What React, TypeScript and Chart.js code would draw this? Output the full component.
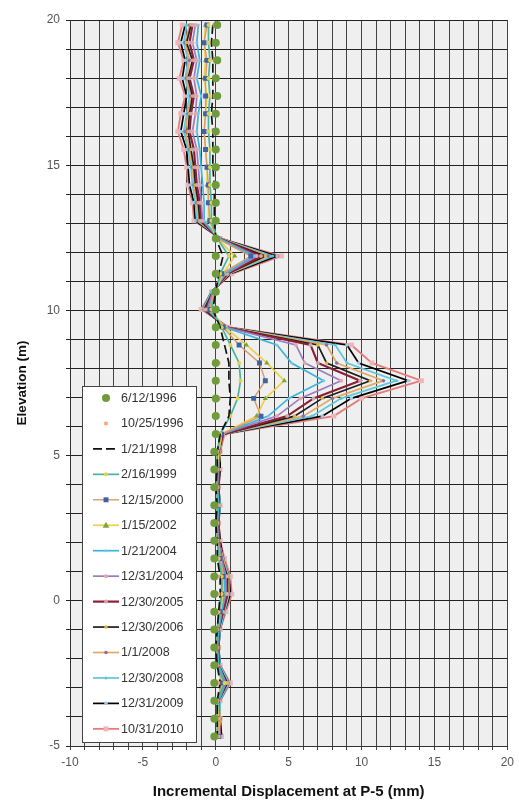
import { useEffect, useRef } from 'react';
import { Chart, registerables } from 'chart.js';

Chart.register(...registerables);

const FONT = '"Liberation Sans", Arial, Helvetica, sans-serif';

// Elevation (m) of each reading (2-ft spacing)
const elevations = [
  19.83, 19.22, 18.61, 17.99, 17.38, 16.77, 16.16, 15.54, 14.93, 14.32, 13.71, 13.09,
  12.48, 11.87, 11.26, 10.64, 10.03,
  9.42, 8.81, 8.19, 7.58, 6.97, 6.36, 5.74,
  5.13, 4.52, 3.91, 3.29, 2.68, 2.07, 1.46, 0.84, 0.23, -0.38, -0.99, -1.61, -2.22, -2.83, -3.44, -4.06, -4.67,
];

const seriesLabels = [
  '6/12/1996', '10/25/1996', '1/21/1998', '2/16/1999', '12/15/2000', '1/15/2002', '1/21/2004',
  '12/31/2004', '12/30/2005', '12/30/2006', '1/1/2008', '12/30/2008', '12/31/2009', '10/31/2010',
];

// Incremental displacement (mm) per reading date
const d19960612 = [
  0.1, 0, 0.1, 0, 0.1, 0, 0, 0, 0, 0, 0, 0,
  0, 0, 0, 0, 0,
  0, 0, 0, 0, 0, 0, 0,
  -0.1, -0.1, -0.1, -0.1, -0.1, -0.1, -0.1, -0.1, -0.1, -0.1, -0.1, -0.1, -0.1, -0.1, -0.1, -0.1, -0.1,
];
const d19961025 = [
  -0.1, 0, -0.1, 0, -0.1, 0, -0.1, 0, -0.1, 0, 0, 0,
  0, 0.1, 0.1, 0, -0.1,
  0.1, 0.1, 0.2, 0.1, 0.2, 0.1, 0.1,
  0.1, 0.1, 0.1, 0.2, 0.1, 0.1, 0.1, 0.2, 0.2, 0.1, 0.1, 0.1, 0.1, 0.2, 0.1, 0.2, 0.2,
];
const d19980121 = [
  -0.2, -0.3, -0.2, -0.2, -0.2, -0.3, -0.2, -0.2, -0.2, -0.1, -0.1, -0.1,
  0, 0.5, 0.2, 0, -0.2,
  0.3, 0.6, 0.9, 0.9, 1.0, 0.9, 0.3,
  0.1, 0.1, 0, 0.1, 0, 0.1, 0.1, 0.3, 0.3, 0.2, 0.1, 0, 0.1, 0.3, 0.1, 0.1, 0.1,
];
const d19990216 = [
  -0.5, -0.5, -0.4, -0.5, -0.4, -0.5, -0.5, -0.4, -0.4, -0.4, -0.3, -0.3,
  0.1, 0.9, 0.3, 0, -0.3,
  0.4, 1.0, 1.6, 1.7, 1.5, 1.0, 0.3,
  0.1, 0.1, 0.1, 0.1, 0.1, 0.1, 0.2, 0.4, 0.4, 0.2, 0.1, 0.1, 0.1, 0.6, 0.1, 0.1, 0.1,
];
const d20001215 = [
  -0.6, -0.8, -0.6, -0.7, -0.7, -0.7, -0.8, -0.7, -0.6, -0.5, -0.5, -0.4,
  0.1, 2.4, 0.4, -0.1, -0.4,
  0.5, 1.6, 3.0, 3.4, 2.6, 3.1, 0.4,
  0.1, 0.1, 0.1, 0.1, 0.1, 0.1, 0.3, 0.5, 0.4, 0.3, 0.1, 0.1, 0.1, 0.4, 0.1, 0.1, 0.2,
];
const d20020115 = [
  -0.7, -0.8, -0.7, -0.8, -0.6, -0.7, -0.8, -0.7, -0.6, -0.6, -0.5, -0.5,
  0.1, 1.3, 0.5, -0.1, -0.4,
  0.6, 2.1, 3.5, 4.7, 3.4, 2.8, 0.4,
  0.2, 0.1, 0.1, 0.1, 0.1, 0.1, 0.3, 0.5, 0.5, 0.3, 0.1, 0.1, 0.1, 0.5, 0.1, 0.2, 0.2,
];
const d20040121 = [
  -1.2, -1.3, -1.1, -1.3, -1.0, -1.2, -1.3, -1.1, -1.0, -0.9, -0.8, -0.8,
  0.2, 2.6, 0.6, -0.1, -0.5,
  0.6, 4.2, 5.2, 7.4, 5.0, 3.6, 0.4,
  0.2, 0.1, 0.1, 0.2, 0.1, 0.1, 0.3, 0.6, 0.6, 0.4, 0.2, 0.1, 0.2, 0.6, 0.2, 0.2, 0.2,
];
const d20041231 = [
  -1.4, -1.6, -1.3, -1.5, -1.3, -1.4, -1.6, -1.3, -1.2, -1.1, -1.0, -0.9,
  0.2, 2.8, 0.7, -0.2, -0.6,
  0.7, 5.5, 6.1, 8.6, 5.8, 4.2, 0.4,
  0.2, 0.2, 0.1, 0.2, 0.1, 0.2, 0.4, 0.7, 0.7, 0.4, 0.2, 0.1, 0.2, 0.7, 0.2, 0.2, 0.3,
];
const d20051230 = [
  -1.6, -1.8, -1.5, -1.8, -1.5, -1.7, -1.8, -1.5, -1.4, -1.3, -1.1, -1.0,
  0.2, 3.1, 0.8, -0.2, -0.7,
  0.7, 6.5, 7.0, 9.9, 6.7, 4.9, 0.5,
  0.2, 0.2, 0.2, 0.2, 0.1, 0.2, 0.4, 0.7, 0.8, 0.5, 0.2, 0.1, 0.2, 0.7, 0.2, 0.2, 0.3,
];
const d20061230 = [
  -1.7, -2.0, -1.6, -1.9, -1.6, -1.8, -1.9, -1.7, -1.5, -1.4, -1.2, -1.1,
  0.2, 3.4, 0.8, -0.2, -0.8,
  0.7, 7.0, 7.6, 10.6, 7.3, 5.4, 0.5,
  0.2, 0.2, 0.2, 0.2, 0.2, 0.2, 0.4, 0.8, 0.8, 0.5, 0.2, 0.2, 0.2, 0.8, 0.2, 0.2, 0.3,
];
const d20080101 = [
  -1.8, -2.1, -1.8, -2.0, -1.7, -1.9, -2.1, -1.8, -1.6, -1.5, -1.3, -1.2,
  0.3, 3.6, 0.9, -0.2, -0.8,
  0.8, 7.6, 8.3, 11.5, 8.0, 6.0, 0.5,
  0.3, 0.2, 0.2, 0.2, 0.2, 0.2, 0.5, 0.8, 0.9, 0.5, 0.2, 0.2, 0.2, 0.8, 0.2, 0.3, 0.3,
];
const d20081230 = [
  -2.0, -2.2, -1.9, -2.1, -1.8, -2.0, -2.2, -1.9, -1.7, -1.6, -1.4, -1.3,
  0.3, 3.9, 0.9, -0.3, -0.9,
  0.8, 8.2, 9.0, 12.4, 8.6, 6.6, 0.5,
  0.3, 0.2, 0.2, 0.3, 0.2, 0.2, 0.5, 0.9, 0.9, 0.6, 0.3, 0.2, 0.3, 0.9, 0.3, 0.3, 0.3,
];
const d20091231 = [
  -2.1, -2.4, -2.1, -2.3, -2.0, -2.2, -2.4, -2.0, -1.9, -1.8, -1.5, -1.4,
  0.3, 4.2, 1.0, -0.3, -0.9,
  0.8, 9.0, 9.8, 13.2, 9.3, 7.3, 0.5,
  0.3, 0.3, 0.2, 0.3, 0.2, 0.3, 0.5, 0.9, 1.0, 0.6, 0.3, 0.2, 0.3, 0.9, 0.3, 0.3, 0.4,
];
const d20101031 = [
  -2.3, -2.6, -2.2, -2.5, -2.1, -2.4, -2.6, -2.2, -2.0, -1.9, -1.6, -1.5,
  0.3, 4.5, 1.1, -0.3, -1.0,
  0.9, 9.3, 10.7, 14.1, 10.0, 8.1, 0.6,
  0.3, 0.3, 0.2, 0.3, 0.2, 0.3, 0.6, 1.0, 1.1, 0.7, 0.3, 0.2, 0.3, 1.0, 0.3, 0.3, 0.4,
];

const seriesValues = [
  d19960612, d19961025, d19980121, d19990216, d20001215, d20020115, d20040121,
  d20041231, d20051230, d20061230, d20080101, d20081230, d20091231, d20101031,
];

const xTicks = [-10, -5, 0, 5, 10, 15, 20];
const yTicks = [-5, 0, 5, 10, 15, 20];

const seriesStyles: any[] = [
  { showLine: false, pointStyle: 'circle', pointRadius: 4, color: '#6f9b3d', pointColor: '#6f9b3d' },
  { showLine: false, pointStyle: 'rect', pointRadius: 2.5, color: '#f2a57c', pointColor: '#f2a57c' },
  { showLine: true, color: '#111111', width: 1.7, dash: [9, 4], pointRadius: 0 },
  { showLine: true, color: '#47b59b', width: 1.7, pointStyle: 'circle', pointRadius: 2, pointColor: '#e8d040' },
  { showLine: true, color: '#d99a6c', width: 1.4, pointStyle: 'rect', pointRadius: 3.5, pointColor: '#3e62a8' },
  { showLine: true, color: '#ecd04c', width: 1.7, pointStyle: 'triangle', pointRadius: 3, pointColor: '#7fa33c' },
  { showLine: true, color: '#3cb4dc', width: 1.7, pointStyle: 'circle', pointRadius: 1.5, pointColor: '#7cc8e6' },
  { showLine: true, color: '#9c7cc0', width: 1.7, pointStyle: 'circle', pointRadius: 2, pointColor: '#eaa6a6' },
  { showLine: true, color: '#8c1f35', width: 2.2, pointStyle: 'circle', pointRadius: 2, pointColor: '#c8a6b4' },
  { showLine: true, color: '#1d1d1d', width: 1.7, pointStyle: 'circle', pointRadius: 1.8, pointColor: '#e0b43c' },
  { showLine: true, color: '#e4a866', width: 1.7, pointStyle: 'circle', pointRadius: 1.8, pointColor: '#8870b0' },
  { showLine: true, color: '#5cc8dc', width: 1.7, pointStyle: 'circle', pointRadius: 1.5, pointColor: '#5cc8dc' },
  { showLine: true, color: '#000000', width: 1.7, pointStyle: 'circle', pointRadius: 1.8, pointColor: '#a8c8ea' },
  { showLine: true, color: '#e47c7c', width: 1.8, pointStyle: 'rect', pointRadius: 3.5, pointColor: '#f2b4b4' },
];

const plotBg = {
  id: 'plotBg',
  beforeDraw(chart: any) {
    const { ctx, chartArea: a } = chart;
    ctx.save();
    ctx.fillStyle = '#efefef';
    ctx.fillRect(a.left, a.top, a.right - a.left, a.bottom - a.top);
    ctx.restore();
  },
};

function drawMarker(ctx: CanvasRenderingContext2D, style: string, x: number, y: number, r: number, color: string) {
  ctx.fillStyle = color;
  ctx.beginPath();
  if (style === 'rect') {
    const s = r / Math.SQRT2;
    ctx.rect(x - s, y - s, 2 * s, 2 * s);
  } else if (style === 'triangle') {
    ctx.moveTo(x, y - r * 1.2);
    ctx.lineTo(x + r * 1.1, y + r * 0.8);
    ctx.lineTo(x - r * 1.1, y + r * 0.8);
    ctx.closePath();
  } else {
    ctx.arc(x, y, r, 0, Math.PI * 2);
  }
  ctx.fill();
}

const boxLegend = {
  id: 'boxLegend',
  afterDraw(chart: any) {
    const { ctx, chartArea: a } = chart;
    const w = 114;
    const h = 356;
    const left = a.left + 12;
    const top = a.bottom - 4 - h;
    ctx.save();
    ctx.fillStyle = '#ffffff';
    ctx.fillRect(left, top, w, h);
    ctx.strokeStyle = '#444';
    ctx.lineWidth = 1;
    ctx.strokeRect(left + 0.5, top + 0.5, w, h);
    chart.data.datasets.forEach((ds: any, i: number) => {
      const y = top + 12 + i * 25.45;
      const x0 = left + 11;
      const x1 = left + 37;
      if (ds.showLine) {
        ctx.beginPath();
        ctx.setLineDash(ds.borderDash || []);
        ctx.strokeStyle = ds.borderColor;
        ctx.lineWidth = ds.borderWidth;
        ctx.moveTo(x0, y);
        ctx.lineTo(x1, y);
        ctx.stroke();
        ctx.setLineDash([]);
      }
      if (ds.pointRadius > 0) {
        drawMarker(ctx, ds.pointStyle, (x0 + x1) / 2, y, ds.pointRadius, ds.pointBackgroundColor);
      }
      ctx.fillStyle = '#333';
      ctx.font = `12.5px ${FONT}`;
      ctx.textBaseline = 'middle';
      ctx.textAlign = 'left';
      ctx.fillText(ds.label, left + 39, y + 0.5);
    });
    ctx.restore();
  },
};

export default function App() {
  const ref = useRef<HTMLCanvasElement | null>(null);

  useEffect(() => {
    if (!ref.current) return;
    const datasets = seriesLabels.map((label, k) => {
      const st = seriesStyles[k];
      return {
        label,
        data: elevations.map((e, i) => ({ x: seriesValues[k][i], y: e })),
        showLine: st.showLine,
        borderColor: st.color,
        backgroundColor: st.color,
        borderWidth: st.width || 1,
        borderDash: st.dash || [],
        pointStyle: st.pointStyle || 'circle',
        pointRadius: st.pointRadius,
        pointBackgroundColor: st.pointColor || st.color,
        pointBorderColor: st.pointColor || st.color,
        pointBorderWidth: 0,
        tension: 0,
      };
    });

    const chart = new Chart(ref.current, {
      type: 'scatter',
      data: { datasets },
      plugins: [plotBg, boxLegend],
      options: {
        animation: false,
        responsive: false,
        layout: { padding: { top: 20, right: 11, left: 0, bottom: 0 } },
        plugins: { legend: { display: false }, tooltip: { enabled: false } },
        scales: {
          x: {
            type: 'linear',
            min: -10,
            max: 20,
            afterFit: (s: any) => { s.height = 55; },
            ticks: {
              stepSize: 1,
              autoSkip: false,
              maxRotation: 0,
              padding: 5,
              color: '#555',
              font: { family: FONT, size: 12 },
              callback: (v: any) => (xTicks.includes(Number(v)) ? String(v) : ''),
            },
            grid: { color: '#444', lineWidth: 1, tickLength: 4 },
            border: { color: '#333' },
            title: {
              display: true,
              text: 'Incremental Displacement at P-5 (mm)',
              color: '#111',
              font: { family: FONT, size: 15, weight: 'bold' },
              padding: { top: 0, bottom: 0 },
            },
          },
          y: {
            type: 'linear',
            min: -5,
            max: 20,
            afterFit: (s: any) => { s.width = 70; },
            ticks: {
              stepSize: 1,
              autoSkip: false,
              padding: 6,
              color: '#555',
              font: { family: FONT, size: 12 },
              callback: (v: any) => (yTicks.includes(Number(v)) ? String(v) : ''),
            },
            grid: { color: '#222', lineWidth: 1, tickLength: 4 },
            border: { color: '#333' },
            title: {
              display: true,
              text: 'Elevation (m)',
              color: '#111',
              font: { family: FONT, size: 13.5, weight: 'bold' },
              padding: { top: 14, bottom: 0 },
            },
          },
        },
      } as any,
    });
    return () => chart.destroy();
  }, []);

  return (
    <div style={{ position: 'fixed', left: 0, top: 0, width: 519, height: 801, background: '#fff' }}>
      <canvas ref={ref} width={519} height={801} style={{ display: 'block' }} />
    </div>
  );
}
